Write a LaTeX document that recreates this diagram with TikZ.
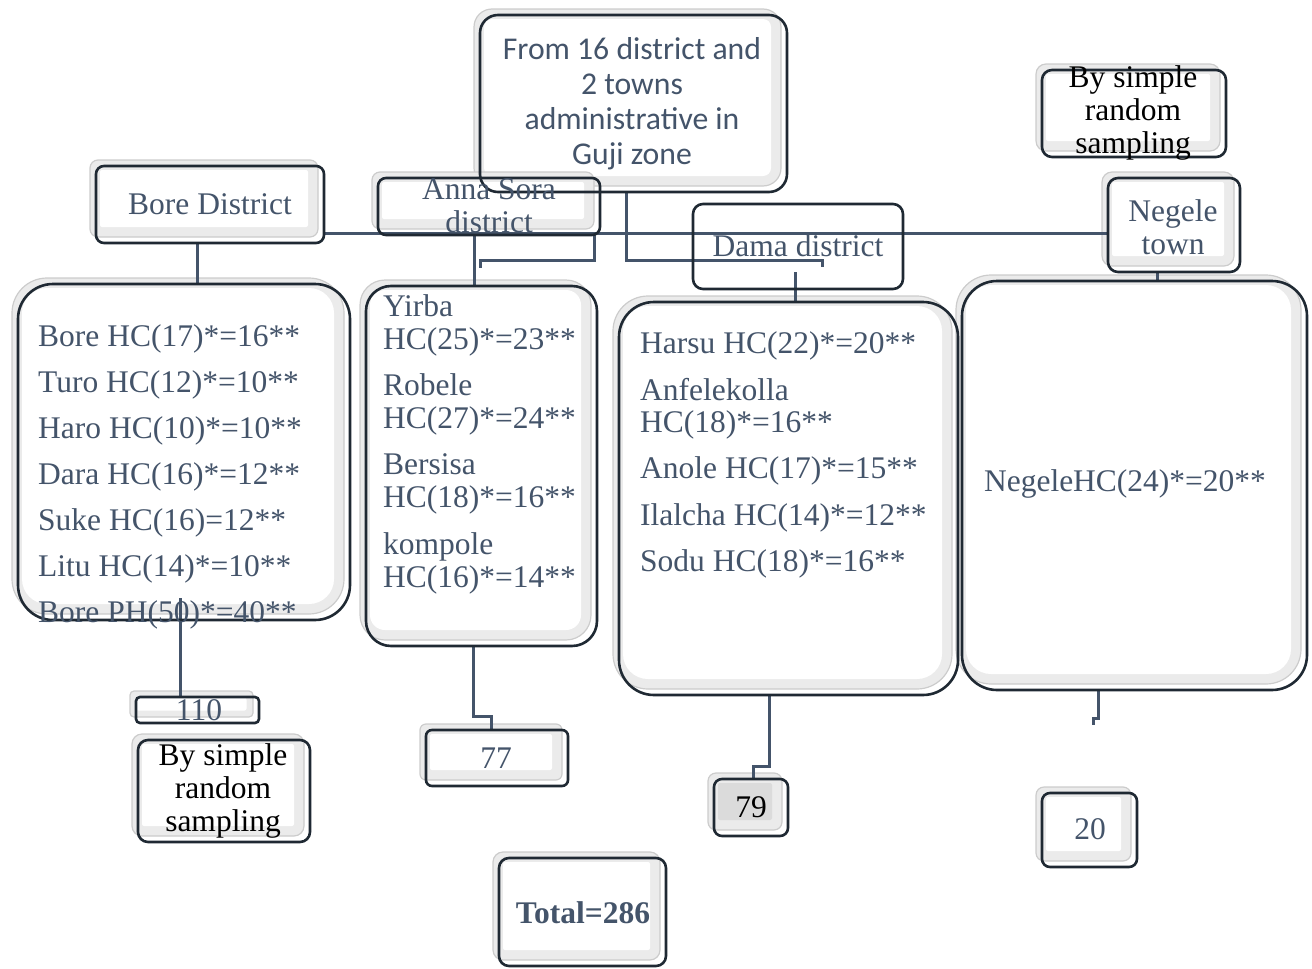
\documentclass[tikz,border=0pt]{standalone}
\usepackage{fontspec}
\setmainfont{Liberation Serif}
\newfontfamily\calibrifont{Carlito}
\definecolor{txt}{HTML}{44546A}
\definecolor{edge}{HTML}{1F2933}
\pgfdeclarelayer{bg}
\pgfsetlayers{bg,main}
\newcommand\bev[6][white]{%
  \pgfmathsetmacro\ins{min(10,(#5-#3)/4)}%
  \pgfmathsetmacro\rin{max(#6-\ins,2)}%
  \path[bevout,rounded corners=#6pt] ({#2-6},{#3-6}) rectangle ({#4-6},{#5-6});
  \path[fill=#1,rounded corners=\rin pt] ({#2-6+\ins},{#3-6+\ins}) rectangle ({#4-6-\ins},{#5-6-\ins});
}
\newcommand\obox[7][]{%
  \pgfmathsetmacro\bw{#5-#3}%
  \pgfmathsetmacro\bh{#6-#4}%
  \node[outl,rounded corners=#7pt,anchor=north west,minimum width=\bw pt,minimum height=\bh pt,#1] (#2) at (#3,#4) {};
}
\begin{document}
\begin{tikzpicture}[x=1pt,y=-1pt,
  bevout/.style={fill=gray!16,draw=gray!40,line width=1.2pt},
  outl/.style={draw=edge,line width=2.6pt,inner sep=0pt,outer sep=0pt},
  conn/.style={draw=txt,line width=3pt},
  lbl/.style={text=txt,inner sep=0pt,font=\fontsize{31.5}{33}\selectfont,align=center},
  blk/.style={lbl,text=black}]
\useasboundingbox (0,0) rectangle (1312,969);
\begin{pgfonlayer}{bg}
\bev{480}{15}{787}{192}{18}
\bev{96}{166}{324}{243}{8}
\bev{378}{178}{600}{235}{8}
\bev{1108}{178}{1240}{272}{10}
\bev{1042}{70}{1226}{157}{10}
\bev{18}{284}{350}{620}{35}
\bev{366}{286}{597}{646}{25}
\bev{619}{302}{958}{695}{35}
\bev{962}{281}{1307}{690}{35}
\bev{136}{697}{259}{723}{4}
\bev{138}{740}{310}{842}{10}
\bev{426}{730}{568}{786}{6}
\bev[gray!28]{714}{779}{788}{836}{8}
\bev{1042}{793}{1137}{867}{8}
\bev{499}{858}{666}{966}{10}
\end{pgfonlayer}
% outline boxes
\obox{top}{480}{15}{787}{192}{18}
\obox{boreD}{96}{166}{324}{243}{8}
\obox{annaD}{378}{178}{600}{235}{8}
\obox{damaD}{693}{204}{903}{289}{10}
\obox{negT}{1108}{178}{1240}{272}{10}
\obox{srsTop}{1042}{70}{1226}{157}{10}
\obox{boreL}{18}{284}{350}{620}{35}
\obox{annaL}{366}{286}{597}{646}{25}
\obox{damaL}{619}{302}{958}{695}{35}
\obox{negL}{962}{281}{1307}{690}{35}
\obox{n110}{136}{697}{259}{723}{4}
\obox{srsBot}{138}{740}{310}{842}{10}
\obox{n77}{426}{730}{568}{786}{6}
\obox{n79}{714}{779}{788}{836}{8}
\obox{n20}{1042}{793}{1137}{867}{8}
\obox{total}{499}{858}{666}{966}{10}
% connector helper coordinates
\coordinate (cB) at (197,0);
\coordinate (cH) at (0,233);
\coordinate (cT) at (626,0);
\coordinate (tD1) at (822,260);
\coordinate (tD2) at (822,267);
\coordinate (cA) at (594,0);
\coordinate (tA1) at (480,260);
\coordinate (tA2) at (480,268);
\coordinate (cA3) at (474,0);
\coordinate (cDm) at (795,272);
\coordinate (cN) at (1157,0);
\coordinate (c110) at (180,598);
\coordinate (c77) at (473,0);
\coordinate (t77) at (491,716);
\coordinate (c79) at (769,0);
\coordinate (t79) at (753,766);
\coordinate (c20) at (1098,0);
\coordinate (t20a) at (1093,718);
\coordinate (t20b) at (1093,725);
\begin{pgfonlayer}{bg}
\draw[conn] (boreD.south -| cB) -- (boreL.north -| cB);
\draw[conn] (boreD.east |- cH) -- (negT.west |- cH);
\draw[conn] (top.south -| cT) |- (tD1) -- (tD2);
\draw[conn] (annaD.south -| cA) |- (tA1) -- (tA2);
\draw[conn] (annaD.south -| cA3) -- (annaL.north -| cA3);
\draw[conn] (cDm) -- (damaL.north -| cDm);
\draw[conn] (negT.south -| cN) -- (negL.north -| cN);
\draw[conn] (c110) -- (n110.north -| c110);
\draw[conn] (annaL.south -| c77) |- (t77) -- (n77.north -| t77);
\draw[conn] (damaL.south -| c79) |- (t79) -- (n79.north -| t79);
\draw[conn] (negL.south -| c20) |- (t20a) -- (t20b);
\end{pgfonlayer}
% texts
\node[lbl,font=\calibrifont\fontsize{31.7}{35}\selectfont] (topT) at (632,104) {From 16 district and\\2 towns\\administrative in\\Guji zone};
\node[lbl] (boreDT) at (210,204) {Bore District};
\node[lbl] (annaDT) at (489,205.5) {Anna Sora\\district};
\node[lbl] (damaDT) at (798,246) {Dama district};
\node[lbl] (negTT) at (1173,227.5) {Negele\\town};
\node[blk] (srsTopT) at (1133,112.5) {By simple\\random\\sampling};
\foreach \s [count=\i] in {Bore HC(17)*=16**,Turo HC(12)*=10**,Haro HC(10)*=10**,Dara HC(16)*=12**,Suke HC(16)=12**,Litu HC(14)*=10**,Bore PH(50)*=40**}
  \node[lbl,anchor=base west] (bl\i) at (38,{346+46*(\i-1)}) {\s};
\foreach \s/\y [count=\i] in {Yirba/306,HC(25)*=23**/339,Robele/385,HC(27)*=24**/418,Bersisa/464,HC(18)*=16**/497,kompole/544,HC(16)*=14**/577}
  \node[lbl,anchor=base west] (al\i) at (383,{\y+10}) {\s};
\foreach \s/\y [count=\i] in {Harsu HC(22)*=20**/343,Anfelekolla/390,HC(18)*=16**/422,Anole HC(17)*=15**/468,Ilalcha HC(14)*=12**/515,Sodu HC(18)*=16**/561}
  \node[lbl,anchor=base west] (dl\i) at (640,{\y+10}) {\s};
\node[lbl] (negLT) at (1125,484) {NegeleHC(24)*=20**};
\node[lbl] (t110) at (199,710) {110};
\node[blk] (srsBotT) at (223,791) {By simple\\random\\sampling};
\node[lbl] (t77n) at (496,758) {77};
\node[blk] (t79n) at (751,807) {79};
\node[lbl] (t20n) at (1090,829) {20};
\node[lbl,font=\bfseries\fontsize{31.5}{33}\selectfont] (totT) at (583,913) {Total=286};
\end{tikzpicture}
\end{document}
